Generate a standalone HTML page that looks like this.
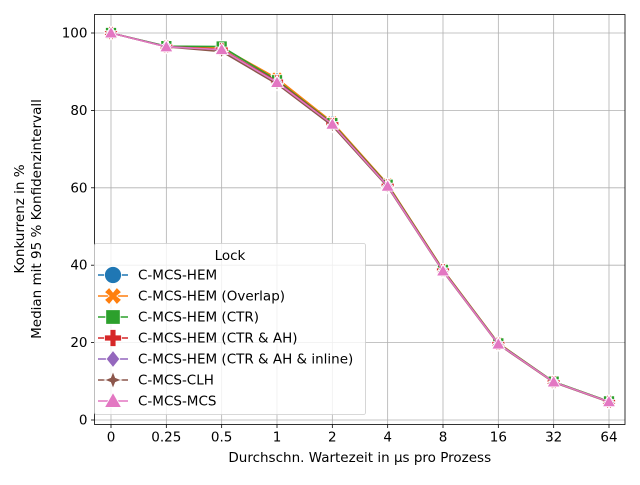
<!DOCTYPE html>
<html><head><meta charset="utf-8"><style>
body{margin:0;background:#fff}
svg text{font-family:"DejaVu Sans","Liberation Sans",sans-serif;font-size:13.5px;fill:#000}
</style></head><body>
<svg id="c" width="640" height="480" xmlns="http://www.w3.org/2000/svg"></svg>
<script>
const categories=["0","0.25","0.5","1","2","4","8","16","32","64"];
const yTicks=[0,20,40,60,80,100];
const seriesNames=["C-MCS-HEM","C-MCS-HEM (Overlap)","C-MCS-HEM (CTR)","C-MCS-HEM (CTR & AH)","C-MCS-HEM (CTR & AH & inline)","C-MCS-CLH","C-MCS-MCS"];
const sHem=[100,96.5,96.3,88.0,76.8,60.8,38.8,19.8,9.9,4.8];
const sOverlap=[100,96.5,96.3,88.3,77.0,61.0,38.9,19.9,9.9,4.8];
const sCtr=[100,96.6,96.5,87.8,76.7,60.8,38.8,19.8,9.9,4.8];
const sCtrAh=[100,96.5,95.8,87.5,76.5,60.6,38.7,19.7,9.8,4.7];
const sInline=[100,96.5,95.6,87.3,76.3,60.5,38.6,19.7,9.8,4.7];
const sClh=[100,96.4,95.2,86.8,76.0,60.2,38.4,19.5,9.7,4.6];
const sMcs=[100,96.4,95.7,87.2,76.4,60.4,38.5,19.6,9.8,4.7];
const allSeries=[sHem,sOverlap,sCtr,sCtrAh,sInline,sClh,sMcs];
const colors=["#1f77b4","#ff7f0e","#2ca02c","#d62728","#9467bd","#8c564b","#e377c2"];
const markers=["circle","x","square","plus","diamond","star","triangle"];
const L=94.5,R=625,T=14.5,B=424.5;
const xs=i=>111+i*(609-111)/(categories.length-1);
const ys=v=>420-v*(420-33)/100;
const svg=document.getElementById('c');
const NS="http://www.w3.org/2000/svg";
function el(t,a,p){const e=document.createElementNS(NS,t);for(const k in a)e.setAttribute(k,a[k]);(p||svg).appendChild(e);return e;}
function markerPath(type,x,y,s){
  if(type==="circle")return `M${x-s},${y}a${s},${s} 0 1,0 ${2*s},0a${s},${s} 0 1,0 ${-2*s},0`;
  if(type==="square"){const h=s*0.85;return `M${x-h},${y-h}h${2*h}v${2*h}h${-2*h}z`;}
  if(type==="diamond")return `M${x},${y-s}L${x+s*0.8},${y}L${x},${y+s}L${x-s*0.8},${y}z`;
  if(type==="triangle")return `M${x},${y-s}L${x+s},${y+s*0.75}L${x-s},${y+s*0.75}z`;
  if(type==="plus"){const w=s*0.35;return `M${x-w},${y-s}h${2*w}v${s-w}h${s-w}v${2*w}h${-(s-w)}v${s-w}h${-2*w}v${-(s-w)}h${-(s-w)}v${-2*w}h${s-w}z`;}
  if(type==="x"){const a=s*0.45;const pts=[[0,-a],[a,-s],[s,-a],[a,0],[s,a],[a,s],[0,a],[-a,s],[-s,a],[-a,0],[-s,-a],[-a,-s]];return "M"+pts.map(p=>(x+p[0])+","+(y+p[1])).join("L")+"z";}
  if(type==="star"){const pts=[];for(let i=0;i<8;i++){const r=i%2?s*0.4:s;const a=i*Math.PI/4-Math.PI/2;pts.push((x+r*Math.cos(a))+","+(y+r*Math.sin(a)));}return "M"+pts.join("L")+"z";}
}
categories.forEach((c,i)=>{
  const g=el('line',{x1:xs(i),x2:xs(i),y1:T,y2:B,stroke:'#b0b0b0','stroke-width':0.8});
  
  el('line',{x1:xs(i),x2:xs(i),y1:B,y2:B+3.5,stroke:'#000','stroke-width':0.8});
  const t=el('text',{x:xs(i),y:B+17,'text-anchor':'middle'});t.textContent=c;
  
});
yTicks.forEach(v=>{
  const g=el('line',{x1:L,x2:R,y1:ys(v),y2:ys(v),stroke:'#b0b0b0','stroke-width':0.8});
  
  el('line',{x1:L-3.5,x2:L,y1:ys(v),y2:ys(v),stroke:'#000','stroke-width':0.8});
  const t=el('text',{x:L-7,y:ys(v)+4.5,'text-anchor':'end'});t.textContent=v;
  
});
allSeries.forEach((s,k)=>{
  const g=el('g',{});
  
  el('polyline',{points:s.map((v,i)=>xs(i)+","+ys(v)).join(" "),fill:'none',stroke:colors[k],'stroke-width':1.5},g);
  s.forEach((v,i)=>{
    const m=el('path',{d:markerPath(markers[k],xs(i),ys(v),6.5),fill:colors[k],stroke:'#fff','stroke-width':0.8},g);
    
  });
});
const fr=el('rect',{x:L,y:T,width:R-L,height:B-T,fill:'none',stroke:'#000','stroke-width':0.8});

const xl=el('text',{x:(L+R)/2,y:462,'text-anchor':'middle'});xl.textContent="Durchschn. Wartezeit in µs pro Prozess";

const yl=el('text',{transform:'translate(24,219) rotate(-90)','text-anchor':'middle'});yl.textContent="Konkurrenz in %";

const yl2=el('text',{transform:'translate(41,219) rotate(-90)','text-anchor':'middle'});yl2.textContent="Median mit 95 % Konfidenzintervall";

const lg=el('g',{});

el('rect',{x:94.5,y:243.5,width:271,height:171,rx:2,fill:'#fff','fill-opacity':0.8,stroke:'#ccc','stroke-width':0.8},lg);
const lt=el('text',{x:230,y:260,'text-anchor':'middle'},lg);lt.textContent="Lock";

seriesNames.forEach((n,k)=>{
  const y=275+k*21;
  const e=el('g',{},lg);
  
  el('line',{x1:98,x2:128,y1:y,y2:y,stroke:colors[k],'stroke-width':1.5},e);
  el('path',{d:markerPath(markers[k],113,y,8.5),fill:colors[k],stroke:'#fff','stroke-width':0.8},e);
  const t=el('text',{x:138,y:y+4.5},e);t.textContent=n;
});
</script>
</body></html>
